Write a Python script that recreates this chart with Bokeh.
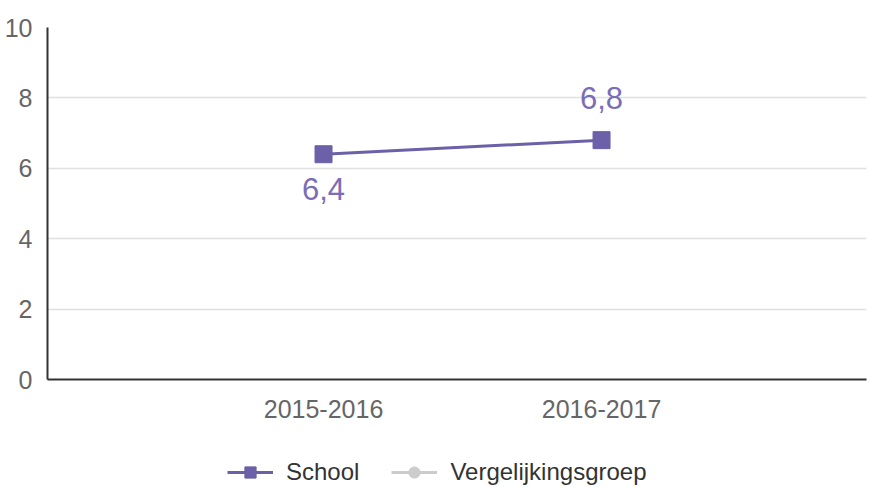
from bokeh.plotting import figure
from bokeh.layouts import column
from bokeh.models import ColumnDataSource, FixedTicker, Legend, LegendItem, Range1d
from bokeh.core.properties import value
from bokeh.embed import file_html
from bokeh.resources import INLINE

# ---- data ----
categories = ["2015-2016", "2016-2017"]
school = [6.4, 6.8]
vergelijkingsgroep = [float("nan"), float("nan")]   # no values shown in the chart
y_ticks = [0, 2, 4, 6, 8, 10]

PURPLE = "#6c60a9"
LABEL_PURPLE = "#7a6db6"
GREY = "#cccccc"
FONT = "Liberation Sans"

xs = [i + 1 for i in range(len(categories))]
labels = [f"{v:.1f}".replace(".", ",") for v in school]
label_offsets = [35, -42]  # first label below the point, second above

src = ColumnDataSource(dict(x=xs, y=school, label=labels, yoff=label_offsets))
vsrc = ColumnDataSource(dict(x=xs, y=vergelijkingsgroep))

p = figure(width=869, height=435, output_backend="svg", toolbar_location=None,
           x_range=Range1d(0.0072, 2.953), y_range=Range1d(0, 10),
           min_border_left=47, min_border_right=3, min_border_top=27,
           min_border_bottom=56)
p.outline_line_color = None
p.background_fill_color = "white"
p.border_fill_color = "white"

# axes
p.xaxis.ticker = FixedTicker(ticks=xs)
p.xaxis.major_label_overrides = {x: c for x, c in zip(xs, categories)}
p.yaxis.ticker = FixedTicker(ticks=y_ticks)
for ax in (p.xaxis, p.yaxis):
    ax.axis_line_color = "#333333"
    ax.axis_line_width = 2
    ax.major_tick_line_color = None
    ax.minor_tick_line_color = None
    ax.major_label_text_color = "#666666"
    ax.major_label_text_font = FONT
    ax.major_label_text_font_size = "25px"
p.xaxis.major_label_standoff = 14
p.yaxis.major_label_standoff = 9

p.xgrid.grid_line_color = None
p.ygrid.grid_line_color = "#e0e0e0"
p.ygrid.grid_line_width = 1.5

# series
p.line("x", "y", source=vsrc, line_color=GREY, line_width=3)
p.scatter("x", "y", source=vsrc, marker="circle", size=12,
          fill_color=GREY, line_color=GREY)
p.line("x", "y", source=src, line_color=PURPLE, line_width=3)
p.scatter("x", "y", source=src, marker="square", size=17,
          fill_color=PURPLE, line_color=PURPLE)
p.text("x", "y", text="label", source=src, y_offset="yoff",
       text_align="center", text_baseline="middle",
       text_font=value(FONT), text_font_size="31px", text_color=LABEL_PURPLE)

# ---- legend strip below the chart ----
lf = figure(width=869, height=52, output_backend="svg", toolbar_location=None,
            x_axis_type=None, y_axis_type=None,
            x_range=Range1d(-10, -9), y_range=Range1d(-10, -9),
            min_border=0)
lf.outline_line_color = None
lf.xgrid.visible = False
lf.ygrid.visible = False
lf.background_fill_color = "white"
lf.border_fill_color = "white"

# legend glyphs (data lies outside this strip's view; only the legend shows)
lg_school_line = lf.line("x", "y", source=src, line_color=PURPLE, line_width=3)
lg_school_mark = lf.scatter("x", "y", source=src, marker="square", size=9,
                            fill_color=PURPLE, line_color=PURPLE)
lg_v_line = lf.line("x", "y", source=vsrc, line_color=GREY, line_width=3)
lg_v_mark = lf.scatter("x", "y", source=vsrc, marker="circle", size=7,
                       fill_color=GREY, line_color=GREY)

legend = Legend(items=[
    LegendItem(label="School", renderers=[lg_school_line, lg_school_mark]),
    LegendItem(label="Vergelijkingsgroep", renderers=[lg_v_line, lg_v_mark]),
], orientation="horizontal", location=(180, 1))
legend.border_line_color = None
legend.background_fill_alpha = 0
legend.padding = 0
legend.margin = 0
legend.spacing = 32
legend.glyph_width = 46
legend.glyph_height = 28
legend.label_standoff = 13
legend.label_text_font = FONT
legend.label_text_font_size = "24px"
legend.label_text_color = "#333333"
legend.label_height = 28
lf.add_layout(legend, "center")

layout = column(p, lf, spacing=0)
open("out.html", "w").write(file_html(layout, INLINE))
